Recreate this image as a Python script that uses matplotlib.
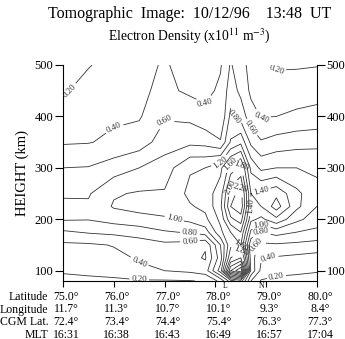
import numpy as np
import matplotlib
matplotlib.use("Agg")
import matplotlib.pyplot as plt
from matplotlib.transforms import blended_transform_factory

plt.rcParams['font.family'] = ['Liberation Serif', 'DejaVu Serif']
plt.rcParams['mathtext.fontset'] = 'stix'

# grid (latitude in deg, height in km, density in 1e11 m^-3)
lats = [75.0, 75.5, 76.0, 76.5, 77.0, 77.5, 77.8, 78.1, 78.3, 78.5, 78.7, 78.9, 79.2, 79.6, 80.0]
heights = [80, 100, 125, 150, 175, 200, 225, 250, 300, 350, 400, 450, 500]
density = [
    [0.15, 0.16, 0.16, 0.18, 0.18, 0.19, 0.22, 0.45, 0.90, 1.10, 0.40, 0.18, 0.15, 0.15, 0.15],
    [0.22, 0.24, 0.28, 0.36, 0.40, 0.44, 0.50, 1.10, 2.40, 2.80, 0.75, 0.35, 0.26, 0.23, 0.21],
    [0.30, 0.31, 0.35, 0.42, 0.45, 0.46, 0.38, 0.90, 1.80, 2.00, 0.70, 0.42, 0.38, 0.35, 0.32],
    [0.36, 0.37, 0.41, 0.48, 0.55, 0.52, 0.42, 1.00, 1.55, 1.60, 0.65, 0.56, 0.57, 0.55, 0.52],
    [0.57, 0.62, 0.65, 0.70, 0.78, 0.82, 0.90, 1.35, 1.60, 1.80, 0.95, 0.80, 0.88, 0.80, 0.75],
    [0.82, 0.81, 0.88, 0.92, 0.97, 1.05, 1.15, 1.45, 1.95, 2.10, 1.25, 1.15, 1.35, 1.05, 0.90],
    [0.87, 0.83, 1.02, 1.08, 1.10, 1.18, 1.25, 1.55, 2.20, 2.35, 1.40, 1.40, 1.70, 1.25, 1.00],
    [0.76, 0.78, 0.98, 1.02, 1.02, 1.25, 1.30, 1.50, 2.10, 2.30, 1.40, 1.45, 1.55, 1.25, 1.05],
    [0.60, 0.61, 0.70, 0.80, 0.90, 1.18, 1.20, 1.35, 1.70, 1.85, 1.15, 0.95, 1.00, 1.00, 0.97],
    [0.38, 0.39, 0.44, 0.50, 0.70, 0.75, 0.73, 0.62, 1.02, 1.15, 0.75, 0.62, 0.68, 0.72, 0.74],
    [0.27, 0.33, 0.37, 0.38, 0.58, 0.55, 0.46, 0.42, 0.85, 0.72, 0.48, 0.39, 0.40, 0.44, 0.46],
    [0.18, 0.26, 0.31, 0.36, 0.45, 0.36, 0.34, 0.44, 0.70, 0.55, 0.36, 0.30, 0.28, 0.30, 0.33],
    [0.14, 0.19, 0.26, 0.34, 0.42, 0.32, 0.30, 0.38, 0.62, 0.48, 0.33, 0.24, 0.18, 0.18, 0.19],
]
levels = [0.2, 0.4, 0.6, 0.8, 1.0, 1.2, 1.4, 1.6, 1.8, 2.0, 2.2, 2.4, 2.6]

# coordinate table under the plot
tick_lats = [75.0, 76.0, 77.0, 78.0, 79.0, 80.0]
row_names = ['Latitude', 'Longitude', 'CGM Lat.', 'MLT']
latitude_txt = ['75.0°', '76.0°', '77.0°', '78.0°', '79.0°', '80.0°']
longitude_txt = ['11.7°', '11.3°', '10.7°', '10.1°', '9.3°', '8.4°']
cgm_txt = ['72.4°', '73.4°', '74.4°', '75.4°', '76.3°', '77.3°']
mlt_txt = ['16:31', '16:38', '16:43', '16:49', '16:57', '17:04']
station_lats = [78.2, 78.9]
station_names = ['L', 'N']

fig = plt.figure(figsize=(3.45, 3.39), dpi=100)
ax = fig.add_axes([0.1826, 0.1711, 0.7362, 0.6372])

X, Y = np.meshgrid(lats, heights)
cs = ax.contour(X, Y, np.array(density), levels=levels, colors='#333333', linewidths=0.6)
ax.clabel(cs, fmt='%.2f', fontsize=6.5, inline=True, inline_spacing=2)

ax.set_xlim(75, 80)
ax.set_ylim(80, 500)
ax.spines['top'].set_visible(False)
for s in ['left', 'right', 'bottom']:
    ax.spines[s].set_linewidth(0.8)

ax.set_yticks([100, 200, 300, 400, 500])
ax.tick_params(axis='y', which='both', direction='out', length=6, width=0.8,
               left=True, right=True, labelleft=True, labelright=True, labelsize=9, pad=1)
ax.set_xticks(tick_lats)
ax.tick_params(axis='x', direction='out', length=4, width=0.8, labelbottom=False)
ax.set_ylabel('HEIGHT (km)', fontsize=10.5, labelpad=4)

# station marks
for lat, name in zip(station_lats, station_names):
    ax.text(lat, 78, name, ha='center', va='top', fontsize=5.5)

# table rows
tr = blended_transform_factory(ax.transData, fig.transFigure)
rows = [latitude_txt, longitude_txt, cgm_txt, mlt_txt]
row_y = [1 - 297 / 339, 1 - 309.5 / 339, 1 - 322 / 339, 1 - 334.5 / 339]
for name, vals, yy in zip(row_names, rows, row_y):
    fig.text(0.14, yy, name, ha='right', va='center', fontsize=8.5)
    for lat, v in zip(tick_lats, vals):
        fig.text(lat + 0.06, yy, v, transform=tr, ha='center', va='center', fontsize=8.5)

fig.text(0.55, 1 - 14 / 339, 'Tomographic  Image:  10/12/96    13:48  UT',
         ha='center', va='center', fontsize=11.5)
fig.text(0.55, 1 - 36 / 339, 'Electron Density (x10$^{11}$ m$^{-3}$)',
         ha='center', va='center', fontsize=9.8)

fig.savefig('out.png', dpi=100)
